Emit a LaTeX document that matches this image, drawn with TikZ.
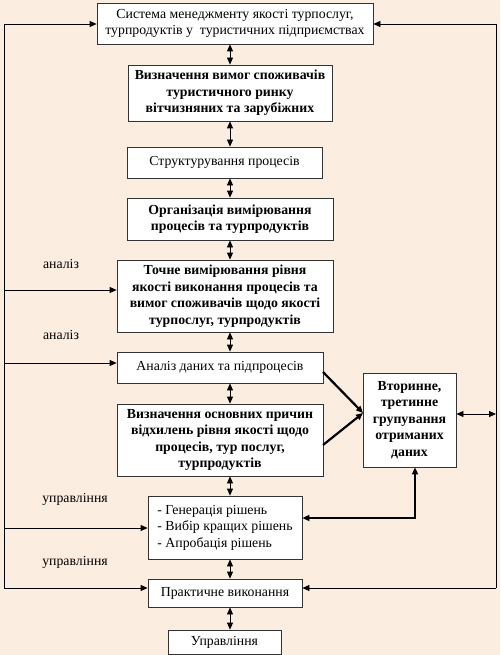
\documentclass[tikz,border=0pt]{standalone}
\usepackage{fontspec}
\setmainfont{Liberation Serif}
\usetikzlibrary{arrows.meta,calc}
\definecolor{bgc}{RGB}{251,238,225}
\begin{document}
\begin{tikzpicture}[x=1pt,y=-1pt,
  box/.style={draw=black!80, line width=0.8pt, fill=white, align=center, inner sep=0pt,
    font=\fontsize{13.8}{16.5}\selectfont},
  bbox/.style={box, font=\fontsize{13.8}{16.5}\selectfont\bfseries},
  lbl/.style={font=\fontsize{13.8}{16.5}\selectfont},
  arr/.style={line width=0.8pt, -{Triangle[length=7pt,width=6pt]}},
  darr/.style={line width=0.8pt, {Triangle[length=7pt,width=6pt]}-{Triangle[length=7pt,width=6pt]}},
  thk/.style={line width=2.2pt, -{Triangle[length=7pt,width=6pt]}},
  thkd/.style={line width=2.2pt, {Triangle[length=7pt,width=6pt]}-{Triangle[length=7pt,width=6pt]}}]
\fill[bgc] (0,0) rectangle (500,655);
\useasboundingbox (0,0) rectangle (500,655);

\node[box, minimum width=276, minimum height=41] (b1) at (235,23.5)
  {Система менеджменту якості турпослуг,\\турпродуктів у\ \ туристичних підприємствах};
\node[bbox, minimum width=204, minimum height=56] (b2) at (230,93)
  {Визначення вимог споживачів\\туристичного ринку\\вітчизняних та зарубіжних};
\node[box, minimum width=195, minimum height=31] (b3) at (224.5,162.5)
  {Структурування процесів};
\node[bbox, minimum width=206, minimum height=42] (b4) at (230,219)
  {Організація вимірювання\\процесів та турпродуктів};
\node[bbox, minimum width=216, minimum height=72] (b5) at (225,296)
  {Точне вимірювання рівня\\якості виконання процесів та\\вимог споживачів щодо якості\\турпослуг, турпродуктів};
\node[box, minimum width=206, minimum height=31] (b6) at (220,367.5)
  {Аналіз даних та підпроцесів};
\node[bbox, minimum width=206, minimum height=72] (b7) at (220,440)
  {Визначення основних причин\\відхилень рівня якості щодо\\процесів, тур послуг,\\турпродуктів};
\node[bbox, minimum width=93, minimum height=94] (b8) at (409.5,420)
  {Вторинне,\\третинне\\групування\\отриманих\\даних};
\node[box, align=left, minimum width=154, minimum height=63] (b9) at (225,527.5)
  {- Генерація рішень\\- Вибір кращих рішень\\- Апробація рішень};
\node[box, minimum width=154, minimum height=28] (b10) at (225,593)
  {Практичне виконання};
\node[box, minimum width=113, minimum height=24] (b11) at (224.5,642)
  {Управління};

\node[lbl] (t1) at (61,264) {аналіз};
\node[lbl] (t2) at (61,335) {аналіз};
\node[lbl] (t3) at (75,499) {управління};
\node[lbl] (t4) at (75,562) {управління};

% vertical double arrows
\coordinate (ax) at (230,0);
\foreach \a/\b in {b1/b2,b2/b3,b3/b4,b4/b5,b5/b6,b6/b7,b7/b9,b9/b10,b10/b11}
  \draw[darr] (\a.south -| ax) -- (\b.north -| ax);

% left feedback
\coordinate (lt) at (4,24);
\coordinate (lb) at (4,588);
\coordinate (l5) at (4,290);
\coordinate (l6) at (4,363);
\coordinate (l9) at (4,528);
\draw[arr] (lb) -- (lt) -- (b1.west |- lt);
\draw[arr] (lb) -- (b10.west |- lb);
\draw[arr] (l5) -- (b5.west |- l5);
\draw[arr] (l6) -- (b6.west |- l6);
\draw[arr] (l9) -- (b9.west |- l9);

% right feedback
\coordinate (rt) at (496,24);
\coordinate (rb) at (496,588);
\coordinate (r8) at (496,414);
\draw[arr] (rb) -- (rt) -- (b1.east |- rt);
\draw[arr] (rb) -- (b10.east |- rb);
\draw[darr] (b8.east |- r8) -- (r8);

% thick arrows
\coordinate (p6) at (323,372);
\coordinate (p7) at (323,445);
\coordinate (q8) at (363,413);
\draw[thk] (p6) -- (q8);
\draw[thk] (p7) -- (q8);
\coordinate (c8) at (415,518);
\draw[thkd] (b8.south -| c8) -- (c8) -- (b9.east |- c8);
\end{tikzpicture}
\end{document}
